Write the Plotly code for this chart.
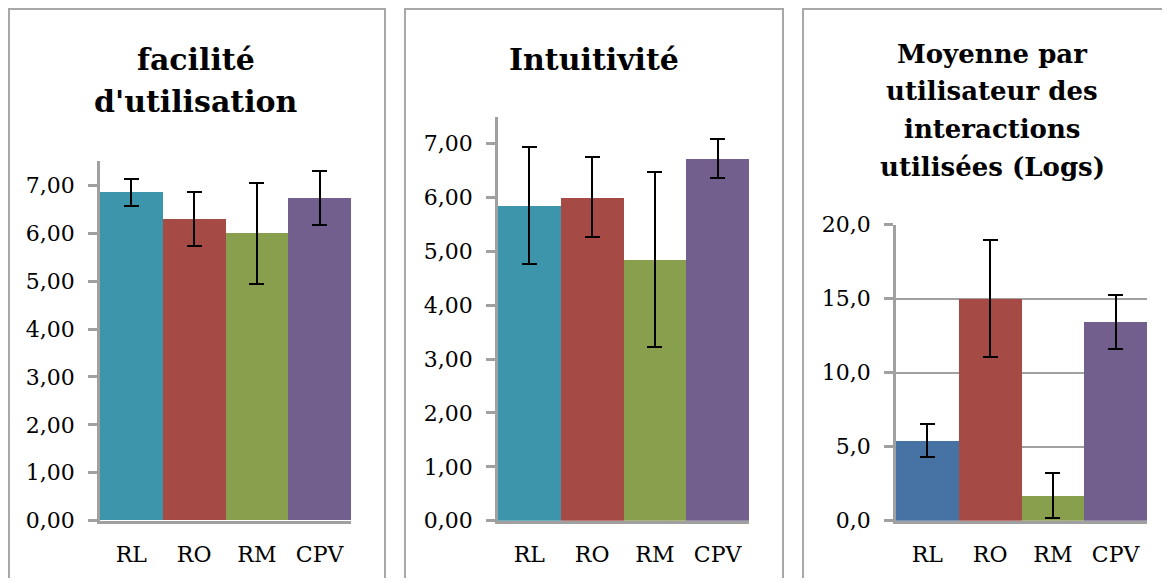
import plotly.graph_objects as go

# The page adds an 8px body margin, so the figure is 16px smaller than the
# window and every position below is given in window pixels minus 8.
W, H = 1154, 570
OFF = 8

categories = ["RL", "RO", "RM", "CPV"]

facilite_vals = [6.85, 6.29, 6.00, 6.73]
facilite_err = [0.28, 0.56, 1.05, 0.56]

intuitivite_vals = [5.85, 6.00, 4.85, 6.72]
intuitivite_err = [1.08, 0.74, 1.62, 0.36]

logs_vals = [5.42, 15.0, 1.69, 13.45]
logs_err = [1.12, 3.96, 1.51, 1.83]

ticks_7 = [0, 1, 2, 3, 4, 5, 6, 7]
ticks_7_text = ["0,00", "1,00", "2,00", "3,00", "4,00", "5,00", "6,00", "7,00"]
ticks_20 = [0, 5, 10, 15, 20]
ticks_20_text = ["0,0", "5,0", "10,0", "15,0", "20,0"]

colors_a = ["#3C95AB", "#A54A44", "#88A04D", "#735F8D"]
colors_b = ["#4673A3", "#A54A44", "#88A04D", "#735F8D"]

SERIF = "DejaVu Serif"
AXIS_GREY = "#A0A0A0"


def px_x(v):
    return min(max((v - OFF) / W, 0), 1)


def px_y(v):
    return min(max(1 - (v - OFF) / H, 0), 1)


fig = go.Figure()

panels = [
    # (values, errors, colours, x-domain px, top px, range, tickvals, ticktext, grid)
    (facilite_vals, facilite_err, colors_a, (100, 351), 161.3, [0, 7.5], ticks_7, ticks_7_text, False),
    (intuitivite_vals, intuitivite_err, colors_a, (498, 749), 116.5, [0, 7.5], ticks_7, ticks_7_text, False),
    (logs_vals, logs_err, colors_b, (896, 1147), 224.7, [0, 20], ticks_20, ticks_20_text, True),
]

zero_px = 520.7

for i, (vals, errs, cols, xd, top, rng, tv, tt, grid) in enumerate(panels, start=1):
    sfx = "" if i == 1 else str(i)
    fig.add_trace(go.Bar(
        x=categories, y=vals,
        marker=dict(color=cols, line=dict(width=0)),
        error_y=dict(type="data", array=errs, visible=True,
                     color="black", thickness=2, width=7.5),
        xaxis="x" + sfx, yaxis="y" + sfx,
        showlegend=False,
    ))
    fig.layout["xaxis" + sfx] = dict(
        domain=[px_x(xd[0]), px_x(xd[1])],
        anchor="y" + sfx,
        automargin=False,
        showline=True, linecolor=AXIS_GREY, linewidth=2.5,
        ticks="", showgrid=False,
        tickfont=dict(family=SERIF, size=22, color="black"),
        ticklabelstandoff=12,
        fixedrange=True,
    )
    fig.layout["yaxis" + sfx] = dict(
        domain=[px_y(zero_px), px_y(top)],
        anchor="x" + sfx,
        automargin=False,
        range=rng,
        tickvals=tv, ticktext=tt,
        showline=True, linecolor=AXIS_GREY, linewidth=2.5,
        ticks="outside", ticklen=9, tickcolor=AXIS_GREY, tickwidth=2.5,
        showgrid=grid, gridcolor=AXIS_GREY, gridwidth=2,
        zeroline=False,
        tickfont=dict(family=SERIF, size=22, color="black"),
        ticklabelstandoff=9,
        fixedrange=True,
    )

# panel borders (open at the bottom, kept inside the figure)
for x0, x1 in [(9, 385), (405, 783), (803, None)]:
    xa, yt, yb = px_x(x0), px_y(9), 0
    path = f"M {xa},{yb} L {xa},{yt}"
    if x1 is not None:
        xb = px_x(x1)
        path += f" L {xb},{yt} L {xb},{yb}"
    else:
        path += f" L 1,{yt}"
    fig.add_shape(type="path", xref="paper", yref="paper", path=path,
                  line=dict(color="#A8A8A8", width=2))

# titles, one annotation per line: (text, centre x, baseline y, size)
title_lines = [
    ("facilité", 196, 69, 30),
    ("d'utilisation", 196, 111, 30),
    ("Intuitivité", 594, 69, 30),
    ("Moyenne par", 992, 63, 26),
    ("utilisateur des", 992, 100, 26),
    ("interactions", 992, 138, 26),
    ("utilisées (Logs)", 992, 176, 26),
]
for text, cx, base, fs in title_lines:
    fig.add_annotation(text=text, xref="paper", yref="paper",
                       x=px_x(cx), y=px_y(base - 0.33 * fs),
                       xanchor="center", yanchor="middle",
                       showarrow=False,
                       font=dict(family=SERIF, size=fs, color="black", weight="bold"))

fig.update_layout(
    width=W, height=H,
    margin=dict(l=0, r=0, t=0, b=0, autoexpand=False),
    paper_bgcolor="white", plot_bgcolor="white",
    bargap=0,
)

fig.write_html("out.html")
